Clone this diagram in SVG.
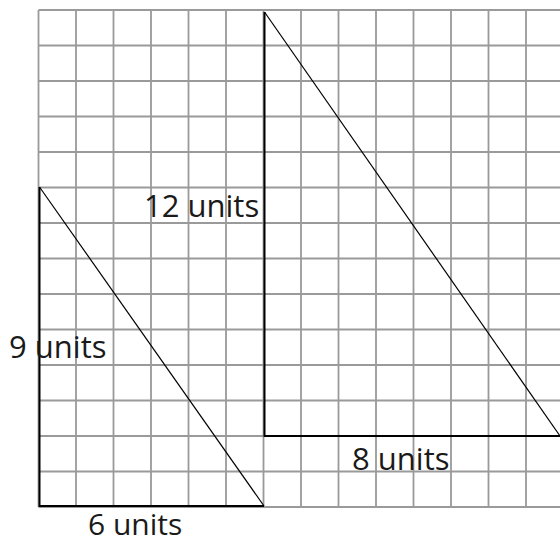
<svg xmlns="http://www.w3.org/2000/svg" width="560" height="544" viewBox="0 0 560 544">
<style>
.g{stroke:#9a9a9a;stroke-width:1.8;fill:none}
.leg{stroke:#000;stroke-width:2;fill:none}
.hyp{stroke:#000;stroke-width:1.2;fill:none}
text{font-family:"Open Sans","Liberation Sans",sans-serif;font-size:31px;fill:#1a1a1a}
</style>
<rect width="560" height="544" fill="#fff"/>
<g id="grid" class="g">
<path d="M38.5 10V507M76 10V507M113.5 10V507M151 10V507M188.5 10V507M226 10V507M263.5 10V507M301 10V507M338.5 10V507M376 10V507M413.5 10V507M451 10V507M488.5 10V507M526 10V507"/>
<path d="M38.5 10H560M38.5 45.5H560M38.5 81H560M38.5 116.5H560M38.5 152H560M38.5 187.5H560M38.5 223H560M38.5 258.5H560M38.5 294H560M38.5 329.5H560M38.5 365H560M38.5 400.5H560M38.5 436H560M38.5 471.5H560M38.5 507H560"/>
</g>
<g id="small-triangle">
<path class="leg" d="M39.5 187V506H264"/>
<path class="hyp" d="M39.5 187L264 506"/>
</g>
<g id="big-triangle">
<path class="leg" d="M264.5 12V436H560"/>
<path class="hyp" d="M264.5 12L560 436"/>
</g>
<g id="labels">
<text x="144" y="217">12 units</text>
<text x="9" y="358">9 units</text>
<text x="88" y="535" style="font-size:30px">6 units</text>
<text x="352" y="470">8 units</text>
</g>
</svg>
